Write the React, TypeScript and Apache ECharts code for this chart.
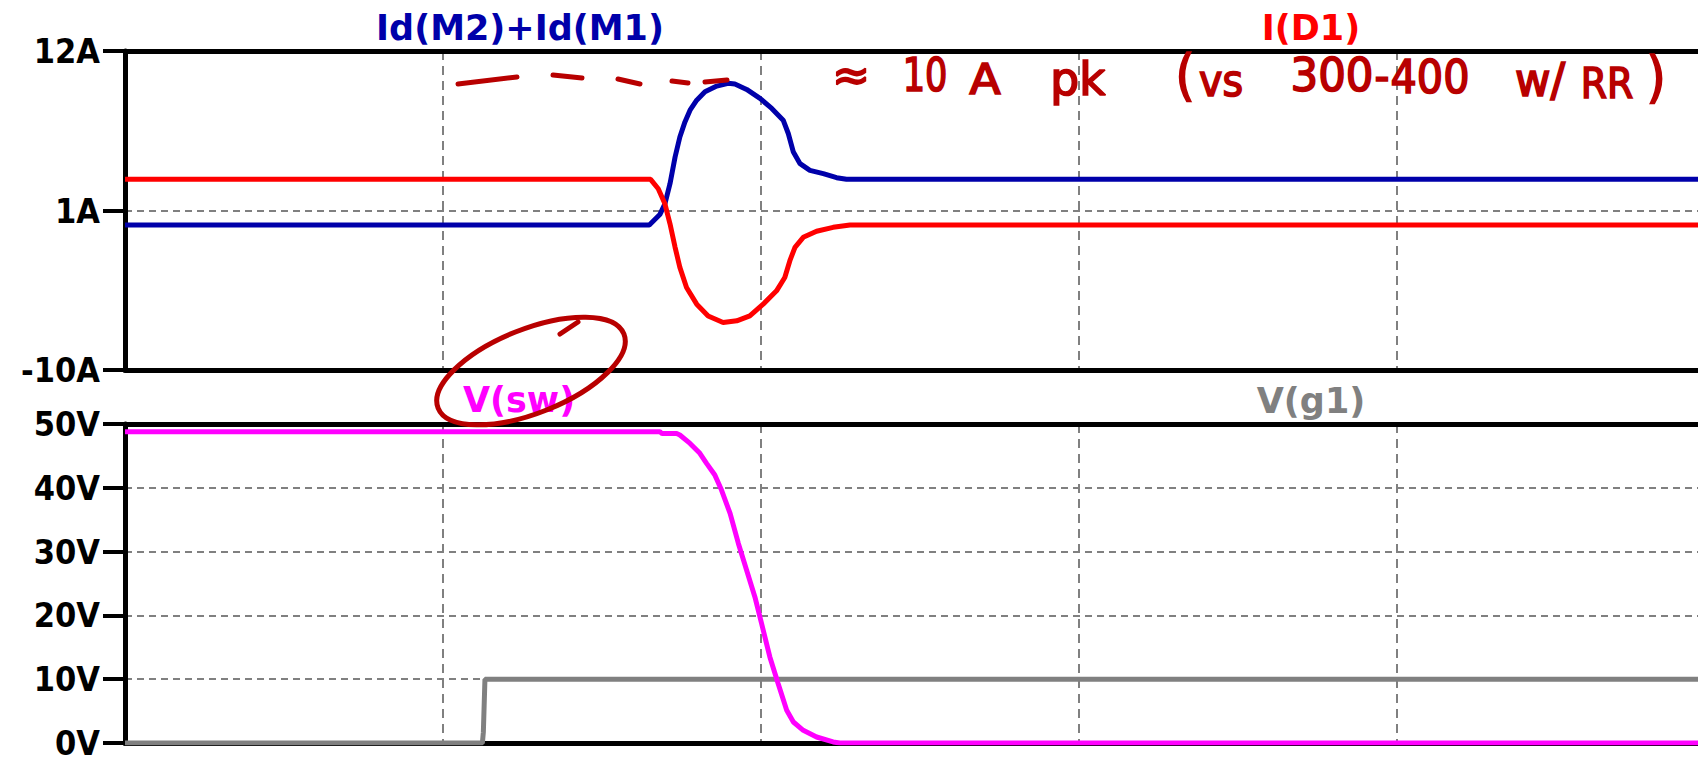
import React, { useEffect, useRef } from "react";
import * as echarts from "echarts";

// ---- Data (time in ns, 10 ns per vertical grid division) ----
const X_MAX = 49.47;

// Id(M2)+Id(M1)  [A]
const idSumT = [0, 16.49, 16.82, 16.98, 17.14, 17.3, 17.45, 17.61, 17.77, 17.98, 18.24, 18.61, 18.97, 19.18, 19.55, 19.97, 20.34, 20.7, 20.86, 21.02, 21.23, 21.54, 21.96, 22.38, 22.69, 49.47];
const idSumV = [0, 0, 0.72, 1.46, 2.85, 4.69, 6.07, 7.11, 7.92, 8.61, 9.19, 9.58, 9.77, 9.72, 9.35, 8.73, 8.04, 7.23, 6.31, 5.03, 4.23, 3.77, 3.54, 3.26, 3.15, 3.15];

// I(D1)  [A]
const iD1T = [0, 16.53, 16.77, 16.98, 17.14, 17.3, 17.45, 17.66, 17.98, 18.34, 18.81, 19.24, 19.65, 20.07, 20.49, 20.75, 20.91, 21.07, 21.33, 21.75, 22.27, 22.8, 49.47];
const iD1V = [3.15, 3.15, 2.5, 1.46, 0.08, -1.54, -2.92, -4.31, -5.46, -6.27, -6.73, -6.61, -6.27, -5.46, -4.54, -3.62, -2.46, -1.54, -0.85, -0.43, -0.16, 0, 0];

// V(sw)  [V]
const vswT = [0, 16.82, 16.89, 17.35, 17.45, 17.77, 18.08, 18.29, 18.55, 18.76, 19.03, 19.29, 19.55, 19.81, 20.02, 20.28, 20.54, 20.81, 21.02, 21.33, 21.75, 22.27, 22.48, 49.47];
const vswV = [48.8, 48.8, 48.5, 48.5, 48.27, 46.96, 45.4, 43.83, 42.0, 39.64, 35.98, 31.28, 27.09, 22.9, 18.73, 13.49, 9.32, 5.13, 3.29, 1.99, 0.94, 0.16, 0, 0];

// V(g1)  [V]
const vg1T = [0, 11.24, 11.27, 11.32, 49.47];
const vg1V = [0, 0, 1.7, 10, 10];

// axis settings
const currentAxis = { min: -10, max: 12, interval: 11, unit: "A" };
const voltageAxis = { min: 0, max: 50, interval: 10, unit: "V" };

const pairs = (t: number[], v: number[]) => t.map((x, i) => [x, v[i]]);

const FONT = '"DejaVu Sans Condensed", "DejaVu Sans", sans-serif';
const LABEL_FONT = '"DejaVu Sans", sans-serif';
const HAND = '"Liberation Sans Narrow", "DejaVu Sans Condensed", sans-serif';
const INK = "#b80000";

export default function App() {
  const ref = useRef<HTMLDivElement>(null);

  useEffect(() => {
    if (!ref.current) return;
    const chart = echarts.init(ref.current, undefined, { renderer: "svg" });

    const frameLine = { show: true, onZero: false, lineStyle: { color: "#000", width: 5 } };
    const xBase = (gridIndex: number, position: string, grid: boolean) => ({
      type: "value",
      gridIndex,
      position,
      min: 0,
      max: X_MAX,
      interval: 10,
      axisLine: frameLine,
      axisTick: { show: false },
      axisLabel: { show: false },
      splitLine: {
        show: grid,
        showMinLine: false,
        showMaxLine: false,
        lineStyle: { color: "#808080", width: 2, type: [9, 6] },
      },
    });
    const yBase = (gridIndex: number, ax: any) => ({
      type: "value",
      gridIndex,
      min: ax.min,
      max: ax.max,
      interval: ax.interval,
      axisLine: frameLine,
      axisTick: { show: true, length: 22, lineStyle: { color: "#000", width: 4 } },
      axisLabel: {
        margin: 25,
        formatter: (v: number) => `${v}${ax.unit}`,
        color: "#000",
        fontSize: 34,
        lineHeight: 28,
        fontWeight: "bold",
        fontFamily: FONT,
      },
      splitLine: { show: true, lineStyle: { color: "#808080", width: 2, type: [7, 5] } },
    });

    const lbl = (text: string, x: number, y: number, fill: string) => ({
      type: "text",
      x,
      y,
      style: { text, fill, fontSize: 35, fontWeight: "bold", fontFamily: LABEL_FONT, align: "center", verticalAlign: "middle" },
      z: 10,
    });
    const hand = (text: string, x: number, y: number, size = 46, scaleX = 1) => ({
      type: "text",
      x,
      y,
      scaleX,
      style: {
        text,
        fill: INK,
        stroke: INK,
        lineWidth: 1.6,
        fontSize: size,
        fontFamily: HAND,
        align: "center",
        verticalAlign: "middle",
      },
      z: 20,
    });
    const stroke = (pts: number[][]) => ({
      type: "polyline",
      shape: { points: pts },
      style: { stroke: INK, lineWidth: 5, fill: "none", lineCap: "round", lineJoin: "round" },
      z: 20,
    });

    chart.setOption({
      animation: false,
      backgroundColor: "#fff",
      grid: [
        { left: 125, top: 51, right: 0, height: 319 },
        { left: 125, top: 424, right: 0, height: 319 },
      ],
      xAxis: [xBase(0, "bottom", true), xBase(0, "top", false), xBase(1, "bottom", true), xBase(1, "top", false)],
      yAxis: [yBase(0, currentAxis), yBase(1, voltageAxis)],
      series: [
        {
          name: "Id(M2)+Id(M1)",
          type: "line",
          xAxisIndex: 0,
          yAxisIndex: 0,
          data: pairs(idSumT, idSumV),
          showSymbol: false,
          lineStyle: { color: "#0000aa", width: 5 },
        },
        {
          name: "I(D1)",
          type: "line",
          xAxisIndex: 0,
          yAxisIndex: 0,
          data: pairs(iD1T, iD1V),
          showSymbol: false,
          lineStyle: { color: "#ff0000", width: 5 },
        },
        {
          name: "V(g1)",
          type: "line",
          xAxisIndex: 2,
          yAxisIndex: 1,
          data: pairs(vg1T, vg1V),
          showSymbol: false,
          lineStyle: { color: "#808080", width: 5 },
        },
        {
          name: "V(sw)",
          type: "line",
          xAxisIndex: 2,
          yAxisIndex: 1,
          data: pairs(vswT, vswV),
          showSymbol: false,
          lineStyle: { color: "#ff00ff", width: 5 },
        },
      ],
      graphic: [
        lbl("Id(M2)+Id(M1)", 520, 28, "#0000aa"),
        lbl("I(D1)", 1311, 28, "#ff0000"),
        lbl("V(sw)", 519, 400, "#ff00ff"),
        lbl("V(g1)", 1311, 401, "#808080"),
        // hand-drawn annotation
        stroke([[458, 84], [517, 77]]),
        stroke([[553, 75], [582, 78]]),
        stroke([[618, 79], [640, 84]]),
        stroke([[672, 81], [688, 83]]),
        stroke([[705, 82], [727, 80]]),
        hand("≈", 851, 75, 46, 1.1),
        hand("10", 925, 75, 46, 0.85),
        hand("A", 985, 80, 42, 1.2),
        hand("pk", 1078, 79, 46, 1.1),
        hand("(", 1185, 74, 56),
        hand("vs", 1221, 80, 44),
        hand("300", 1332, 75, 46, 1.05),
        hand("-", 1382, 76, 46),
        hand("400", 1430, 77, 46),
        hand("w/", 1540, 80, 46, 1.05),
        hand("RR", 1607, 83, 42),
        hand(")", 1656, 76, 56),
        {
          type: "ellipse",
          x: 531,
          y: 371,
          rotation: 0.38,
          shape: { cx: 0, cy: 0, rx: 100, ry: 42 },
          style: { fill: "none", stroke: INK, lineWidth: 5 },
          z: 20,
        },
        stroke([[578, 322], [560, 334]]),
      ],
    });

    return () => chart.dispose();
  }, []);

  return (
    <div
      ref={ref}
      style={{ position: "fixed", left: 0, top: 0, width: 1698, height: 760, background: "#fff" }}
    />
  );
}
